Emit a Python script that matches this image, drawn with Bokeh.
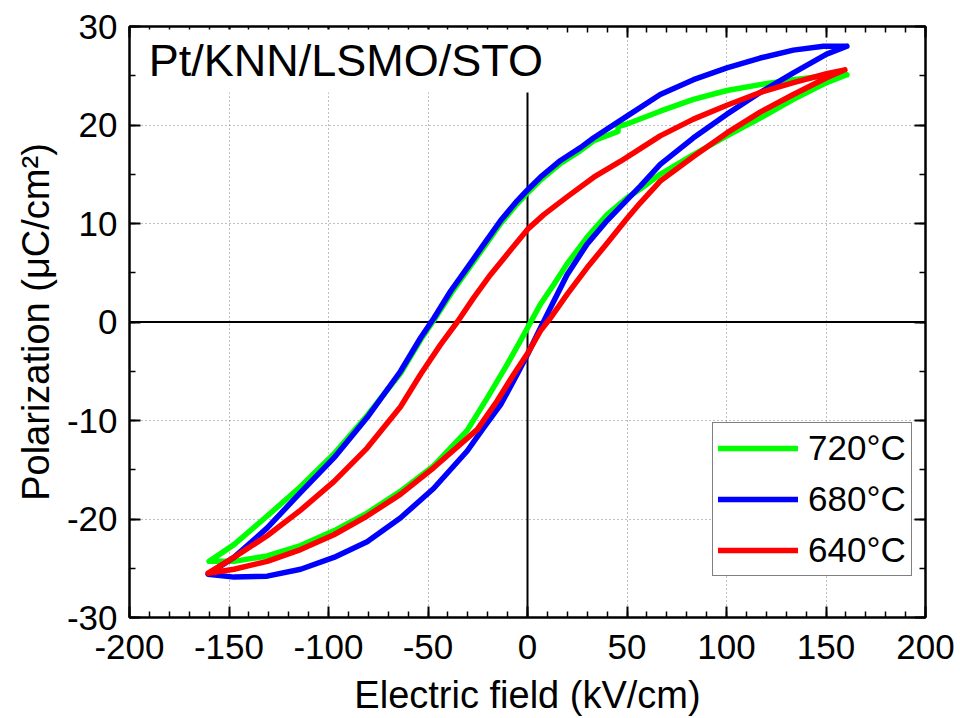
from bokeh.plotting import figure
from bokeh.models import (LinearAxis, SingleIntervalTicker, Span, Label, Legend, LegendItem, Range1d,
                          PrintfTickFormatter, CustomJSTickFormatter)
from bokeh.embed import file_html
from bokeh.resources import INLINE

# ---- data ----
labels = ["720°C", "680°C", "640°C"]
colors = ["#00FF00", "#0000FF", "#FF0000"]

# 720 °C (green): upper branch (+Emax -> -Emax), then lower branch (-Emax -> +Emax)
e_720 = [160.5, 150.3, 133.6, 116.9, 100.2, 83.4, 66.7, 50, 45.5, 45.5, 33.3, 26.6, 16.6, 6.5, 0, -5.2, -13.5, -21.9, -30.3, -38.6, -47, -53.7, -63.8, -80.6, -97.3, -114, -130.8, -147.5, -160,
         -147.5, -130.8, -114, -97.3, -80.6, -63.9, -47.2, -30.3, -20.2, -10.2, -3.5, 0, 6.5, 13.2, 19.9, 29.9, 40, 50, 56.7, 66.7, 83.4, 100.2, 116.9, 133.6, 150.3, 160.5]
p_720 = [25.1, 25.0, 24.6, 24.1, 23.5, 22.6, 21.4, 20.1, 19.85, 19.35, 18.4, 17.4, 16.1, 14.4, 13.1, 12.0, 10.0, 7.6, 5.2, 2.85, 0.2, -1.8, -5.2, -9.5, -13.4, -16.7, -19.7, -22.6, -24.3,
         -24.3, -23.75, -22.7, -21.2, -19.4, -17.2, -14.6, -11.0, -7.7, -4.3, -1.9, -0.6, 1.8, 3.8, 5.9, 8.6, 10.9, 12.6, 13.5, 15.0, 17.0, 18.9, 20.7, 22.6, 24.3, 25.1]

# 680 °C (blue)
e_680 = [160.5, 148.7, 133.6, 116.9, 100.2, 83.4, 66.7, 50, 33.3, 26.6, 16.6, 6.5, 0, -5.2, -13.5, -21.9, -30.3, -38.6, -47, -53.7, -63.8, -80.6, -97.3, -114, -130.8, -147.5, -160.5,
         -147.5, -130.8, -114, -97.3, -80.6, -63.9, -47.2, -30.3, -21.9, -13.5, -5.2, 0, 6.5, 13.2, 19.9, 29.9, 40, 50, 56.7, 66.7, 83.4, 100.2, 116.9, 133.6, 150.3, 160.5]
p_680 = [28.0, 28.0, 27.6, 26.8, 25.8, 24.6, 23.1, 20.9, 18.7, 17.7, 16.4, 14.7, 13.4, 12.3, 10.3, 7.9, 5.5, 3.15, 0.4, -1.6, -5.0, -9.7, -13.8, -17.3, -20.9, -23.9, -25.6,
         -25.9, -25.8, -25.1, -23.9, -22.3, -19.9, -16.9, -13.1, -10.7, -8.4, -5.3, -3.3, -0.6, 2.1, 4.8, 7.9, 10.3, 12.4, 13.8, 16.0, 18.7, 21.1, 23.3, 25.3, 27.2, 28.0]

# 640 °C (red)
e_640 = [159.5, 150.3, 133.6, 116.9, 100.2, 83.4, 66.7, 56.7, 46.6, 33.3, 19.9, 8.2, 0, -8.5, -18.6, -26.9, -35.3, -43.7, -53.7, -63.8, -80.6, -97.3, -114, -130.8, -147.5, -160.5,
         -147.5, -130.8, -114, -97.3, -80.6, -63.9, -47.2, -25.2, -15.2, -6.9, 0, 6.5, 11.5, 19.9, 29.9, 40, 50, 56.7, 66.7, 83.4, 100.2, 116.9, 133.6, 150.3, 159.5]
p_640 = [25.6, 25.2, 24.3, 23.3, 22.0, 20.6, 18.9, 17.6, 16.3, 14.7, 12.7, 10.9, 9.4, 7.3, 4.8, 2.5, 0.0, -2.3, -5.3, -8.6, -12.8, -16.2, -19.1, -21.7, -23.9, -25.5,
         -25.1, -24.3, -23.1, -21.6, -19.7, -17.5, -14.8, -10.9, -8.0, -5.3, -3.2, -0.9, 0.4, 2.8, 5.5, 8.0, 10.5, 12.1, 14.3, 16.8, 19.2, 21.3, 23.1, 24.8, 25.6]

x_tick_interval = 50
y_tick_interval = 10
title_text = "Pt/KNN/LSMO/STO"
x_label = "Electric field (kV/cm)"
y_label = "Polarization (μC/cm²)"

FONT = "Liberation Sans"

p = figure(frame_width=796, frame_height=591,
           x_range=Range1d(-200, 200), y_range=Range1d(-30, 30),
           output_backend="svg", toolbar_location=None,
           min_border_left=129, min_border_right=35, min_border_top=26, min_border_bottom=101,
           background_fill_color="white", border_fill_color="white", outline_line_color="black",
           outline_line_width=2)

xt = SingleIntervalTicker(interval=x_tick_interval, num_minor_ticks=5)
yt = SingleIntervalTicker(interval=y_tick_interval, num_minor_ticks=2)

p.xaxis.ticker = xt
p.yaxis.ticker = yt
p.xgrid.ticker = xt
p.ygrid.ticker = yt


def style_axis(ax, show_labels=True):
    ax.axis_line_color = "black"
    ax.axis_line_width = 2
    ax.major_tick_in = 11
    ax.major_tick_out = 0
    ax.minor_tick_in = 6
    ax.minor_tick_out = 0
    ax.major_tick_line_width = 2
    ax.minor_tick_line_width = 1.5
    ax.major_tick_line_color = "black"
    ax.minor_tick_line_color = "black"
    if show_labels:
        ax.formatter = PrintfTickFormatter(format="%d")
        ax.major_label_text_font = FONT
        ax.major_label_text_font_size = "35px"
        ax.major_label_text_color = "black"
        ax.axis_label_text_font = FONT
        ax.axis_label_text_font_size = "38px"
        ax.axis_label_text_font_style = "normal"
        ax.axis_label_text_color = "black"
    else:
        ax.formatter = CustomJSTickFormatter(code="return '';")
        ax.major_label_text_font_size = "1px"
        ax.major_label_standoff = 0


for ax in p.xaxis + p.yaxis:
    style_axis(ax)

p.xaxis.axis_label = x_label
p.yaxis.axis_label = y_label
p.xaxis.major_label_standoff = 17
p.yaxis.major_label_standoff = 12
p.xaxis.axis_label_standoff = 12
p.yaxis.axis_label_standoff = 7

top_ax = LinearAxis(ticker=xt)
right_ax = LinearAxis(ticker=yt)
style_axis(top_ax, False)
style_axis(right_ax, False)
p.add_layout(top_ax, "above")
p.add_layout(right_ax, "right")

p.grid.grid_line_color = "#808080"
p.grid.grid_line_dash = "1 3"
p.grid.grid_line_width = 1

# zero lines
p.add_layout(Span(location=0, dimension="width", line_color="black", line_width=2, level="underlay"))
p.add_layout(Span(location=0, dimension="height", line_color="black", line_width=2, level="underlay"))

rs = []
for e, pv, c in zip([e_720, e_680, e_640], [p_720, p_680, p_640], colors):
    r = p.line(e, pv, line_color=c, line_width=5.5, line_join="round", line_cap="round")
    rs.append(r)

legend = Legend(items=[LegendItem(label=l, renderers=[r]) for l, r in zip(labels, rs)],
                location=(583, 41))
legend.label_text_font = FONT
legend.label_text_font_size = "35px"
legend.label_text_color = "black"
legend.glyph_width = 80
legend.glyph_height = 30
legend.label_height = 30
legend.label_standoff = 10
legend.spacing = 11
legend.padding = 5
legend.margin = 0
legend.border_line_color = "black"
legend.border_line_width = 1
legend.background_fill_color = "white"
legend.background_fill_alpha = 1
p.add_layout(legend)

title = Label(x=-193.4, y=26.5, text=title_text, text_font=FONT, text_font_size="45px",
              text_color="black", text_baseline="alphabetic",
              background_fill_color="white", background_fill_alpha=1.0, padding=6)
p.add_layout(title)

open("out.html", "w").write(file_html(p, INLINE))
